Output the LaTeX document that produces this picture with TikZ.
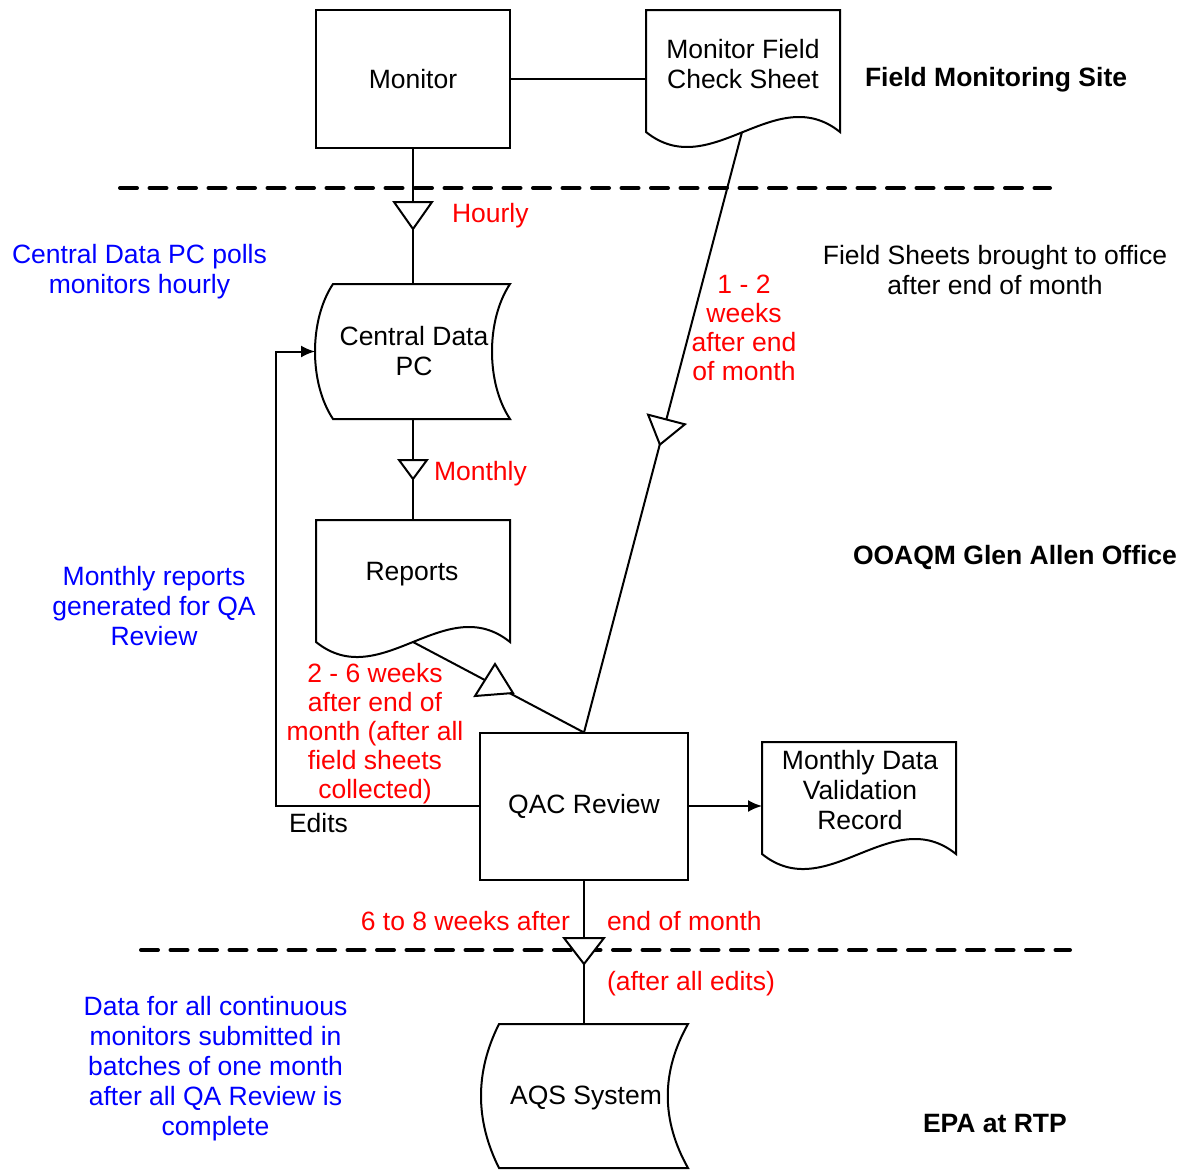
\documentclass[tikz,border=0pt]{standalone}
\usepackage{fontspec}
\setmainfont{Liberation Sans}
\usetikzlibrary{arrows.meta,calc}
\definecolor{lblue}{RGB}{0,0,255}
\definecolor{lred}{RGB}{255,0,0}
\tikzset{
  shapeline/.style={draw=black, line width=2pt, line join=miter},
  conn/.style={draw=black, line width=2pt},
  tri/.style={draw=black, fill=white, line width=2pt, line join=miter},
  sep/.style={draw=black, line width=4pt, line cap=round, dash pattern=on 17pt off 12.5pt},
  frame/.style={inner sep=0pt, outer sep=0pt},
  txt/.style={inner sep=0pt, outer sep=0pt, align=center, font=\fontsize{26.5}{30}\selectfont},
  boxnode/.style={txt, shapeline},
  bluetxt/.style={txt, text=lblue},
  redtxt/.style={txt, text=lred, font=\fontsize{26.5}{29}\selectfont},
  boldtxt/.style={txt, font=\fontsize{26.5}{30}\selectfont\bfseries},
  tip/.style={-{Latex[length=14pt,width=12pt]}},
}
\begin{document}
\begin{tikzpicture}[x=1pt,y=-1pt]
\useasboundingbox (0,0) rectangle (1179,1170);

% ---- dashed separators
\coordinate (s1a) at (120,188); \coordinate (s1b) at (1050,188);
\coordinate (s2a) at (141,950); \coordinate (s2b) at (1070,950);
\draw[sep] (s1a) -- (s1b);
\draw[sep] (s2a) -- (s2b);

% ---- helper frames (invisible) for custom shapes
\node[frame, minimum width=194pt, minimum height=122pt] (sheet) at (743,71) {};
\coordinate (sheetW) at (646,79);
\coordinate (sheetB) at (742,132);
\node[frame, minimum width=195pt, minimum height=135pt] (cdpc) at (412.5,351.5) {};
\node[frame, minimum width=194pt, minimum height=122pt] (reports) at (413,581) {};
\coordinate (reportsB) at (413,642);
\node[frame, minimum width=194pt, minimum height=112pt] (mdv) at (859,798) {};
\node[frame, minimum width=207pt, minimum height=144pt] (aqs) at (584.5,1096) {};

% ---- boxes
\node[boxnode, minimum width=194pt, minimum height=138pt] (monitor) at (413,79) {Monitor};
\node[boxnode, minimum width=208pt, minimum height=147pt] (qac) at (584,806) {QAC Review};

% ---- document shapes
\draw[shapeline] (646,132) -- (646,10) -- (840,10) -- (840,132)
  .. controls (775.3,80) and (710.7,184) .. (646,132) -- cycle;
\draw[shapeline] (316,642) -- (316,520) -- (510,520) -- (510,642)
  .. controls (445.3,590) and (380.7,694) .. (316,642) -- cycle;
\draw[shapeline] (762,854) -- (762,742) -- (956,742) -- (956,854)
  .. controls (891.3,802) and (826.7,906) .. (762,854) -- cycle;

% ---- stored data shapes
\draw[shapeline] (333,284) -- (510,284) .. controls (486,320) and (486,383) .. (510,419)
  -- (333,419) .. controls (309,383) and (309,320) .. (333,284) -- cycle;
\draw[shapeline] (499,1024) -- (688,1024) .. controls (661,1072) and (661,1120) .. (688,1168)
  -- (499,1168) .. controls (475,1120) and (475,1072) .. (499,1024) -- cycle;

% ---- texts inside shapes
\node[txt] (sheetT) at (743,64) {Monitor Field\\Check Sheet};
\node[txt] (cdpcT) at (414,351) {Central Data\\PC};
\node[txt] (reportsT) at (412,574.5) {Reports};
\node[txt] (mdvT) at (860,790) {Monthly Data\\Validation\\Record};
\node[txt] (aqsT) at (586,1097.5) {AQS System};

% ---- connectors
\draw[conn] (monitor.east) -- (sheetW);
\draw[conn] (monitor.south) -- (monitor.south |- cdpc.north);
\draw[conn] (cdpc.south) -- (cdpc.south |- reports.north);
\draw[conn] (sheetB) -- (qac.north);
\draw[conn] (reportsB) -- (qac.north);
\draw[conn] (qac.south) -- (qac.south |- aqs.north);
\draw[conn, tip] (qac.east) -- (qac.east -| mdv.west);
\draw[conn, tip] (qac.west) -- ++(-204,0) |- (cdpc.west);

% ---- flow triangles
\draw[tri] (394,202) -- (432,202) -- (413,229) -- cycle;
\draw[tri] (399,460) -- (427,460) -- (413,479) -- cycle;
\draw[tri] (648.1,414.7) -- (684.9,424.3) -- (659.9,444.6) -- cycle;
\draw[tri] (475,696) -- (513,693) -- (495,664) -- cycle;
\draw[tri] (564,938) -- (604,938) -- (584,964) -- cycle;

% ---- region labels
\node[boldtxt, anchor=base west] (lab1) at (865,86) {Field Monitoring Site};
\node[boldtxt, anchor=base west] (lab2) at (853,564) {OOAQM Glen Allen Office};
\node[boldtxt, anchor=base west] (lab3) at (923,1132) {EPA at RTP};

% ---- black note
\node[txt] (fieldnote) at (995,270) {Field Sheets brought to office\\after end of month};
\node[txt, anchor=base west] (edits) at (289,832) {Edits};

% ---- blue notes
\node[bluetxt] (bn1) at (139.5,272) {Central Data PC polls\\monitors hourly};
\node[bluetxt] (bn2) at (154,606) {Monthly reports\\generated for QA\\Review};
\node[bluetxt] (bn3) at (215.5,1069) {Data for all continuous\\monitors submitted in\\batches of one month\\after all QA Review is\\complete};

% ---- red timing labels
\node[redtxt, anchor=base west] (r1) at (452,222) {Hourly};
\node[redtxt, anchor=base west] (r2) at (434,480) {Monthly};
\node[redtxt] (r3) at (744,328) {1 - 2\\weeks\\after end\\of month};
\node[redtxt] (r4) at (375,734) {2 - 6 weeks\\after end of\\month (after all\\field sheets\\collected)};
\node[redtxt, anchor=base east] (r5) at (570,930) {6 to 8 weeks after};
\node[redtxt, anchor=base west] (r6) at (607,930) {end of month};
\node[redtxt, anchor=base west] (r7) at (607,990) {(after all edits)};
\end{tikzpicture}
\end{document}
